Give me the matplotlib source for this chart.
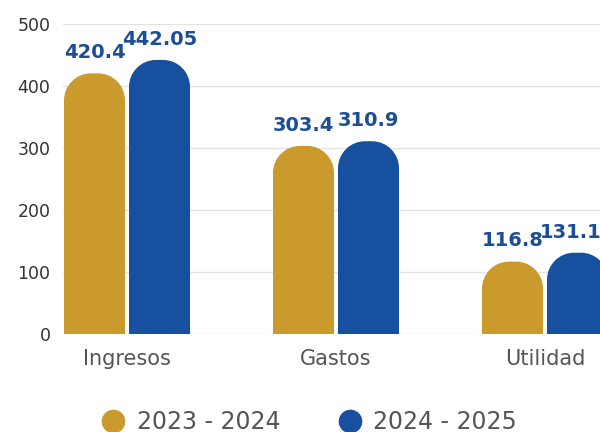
import matplotlib
matplotlib.use("Agg")
import matplotlib.pyplot as plt
from matplotlib.path import Path
from matplotlib.patches import PathPatch
from matplotlib.lines import Line2D
import numpy as np

categories = ["Ingresos", "Gastos", "Utilidad"]
series_names = ["2023 - 2024", "2024 - 2025"]
values_2324 = [420.4, 303.4, 116.8]
values_2425 = [442.05, 310.9, 131.10]
labels_2324 = ["420.4", "303.4", "116.8"]
labels_2425 = ["442.05", "310.9", "131.10"]
yticks = [0, 100, 200, 300, 400, 500]

GOLD = "#CB9A2D"
BLUE = "#16509F"
LABEL_BLUE = "#1C4E96"

W, H, DPI = 600, 432, 100
plt.rcParams['font.family'] = ['DejaVu Sans']
fig = plt.figure(figsize=(W / DPI, H / DPI), dpi=DPI)

ax_left, ax_right = 63, 600
ax_top, ax_bottom = 24, 334
ax = fig.add_axes([ax_left / W, 1 - ax_bottom / H, (ax_right - ax_left) / W, (ax_bottom - ax_top) / H])

px_per_x = 209.0
x_left = -64 / px_per_x
x_right = x_left + (ax_right - ax_left) / px_per_x
ax.set_xlim(x_left, x_right)
ax.set_ylim(0, 500)
px_per_y = (ax_bottom - ax_top) / 500.0

x = np.arange(len(categories))
bw = 61 / px_per_x
off = 32.5 / px_per_x

b1 = ax.bar(x - off, values_2324, bw, color=GOLD)
b2 = ax.bar(x + off, values_2425, bw, color=BLUE)

r_px = 27
rx = r_px / px_per_x
ry = r_px / px_per_y
k = 0.5523

def rounded(rect, color):
    x0 = rect.get_x(); w = rect.get_width(); h = rect.get_height()
    x1 = x0 + w
    verts = [
        (x0, 0), (x0, h - ry),
        (x0, h - ry + k * ry), (x0 + rx - k * rx, h), (x0 + rx, h),
        (x1 - rx, h),
        (x1 - rx + k * rx, h), (x1, h - ry + k * ry), (x1, h - ry),
        (x1, 0), (x0, 0),
    ]
    codes = [Path.MOVETO, Path.LINETO,
             Path.CURVE4, Path.CURVE4, Path.CURVE4,
             Path.LINETO,
             Path.CURVE4, Path.CURVE4, Path.CURVE4,
             Path.LINETO, Path.CLOSEPOLY]
    ax.add_patch(PathPatch(Path(verts, codes), facecolor=color, edgecolor='none', zorder=3))
    rect.set_visible(False)

for r in b1:
    rounded(r, GOLD)
for r in b2:
    rounded(r, BLUE)

for bars, labs in ((b1, labels_2324), (b2, labels_2425)):
    for r, lab in zip(bars, labs):
        ax.annotate(lab, (r.get_x() + r.get_width() / 2, r.get_height()),
                    xytext=(0, 8), textcoords='offset points', ha='center', va='bottom',
                    fontsize=14, fontweight='bold', color=LABEL_BLUE, annotation_clip=False)

ax.set_yticks(yticks)
ax.set_yticklabels([str(v) for v in yticks], fontsize=12.5, color="#333333")
ax.set_xticks(x)
ax.set_xticklabels(categories, fontsize=15, color="#555555")
ax.tick_params(axis='both', length=0)
ax.tick_params(axis='y', pad=9)
ax.tick_params(axis='x', pad=11)
ax.grid(axis='y', color="#E3E3E3", linewidth=1.0, zorder=0)
ax.set_axisbelow(True)
for s in ax.spines.values():
    s.set_visible(False)

# legend drawn manually in figure pixel positions
leg_y = 1 - 421 / H
for cx, col, name, tx in ((113, GOLD, series_names[0], 137), (350, BLUE, series_names[1], 373)):
    fig.add_artist(Line2D([cx / W], [leg_y], transform=fig.transFigure, marker='o', linestyle='none',
                          markersize=16, markerfacecolor=col, markeredgecolor=col))
    fig.text(tx / W, 1 - 422 / H, name, ha='left', va='center', fontsize=17, color="#555555")

fig.savefig("out.png", dpi=DPI)
